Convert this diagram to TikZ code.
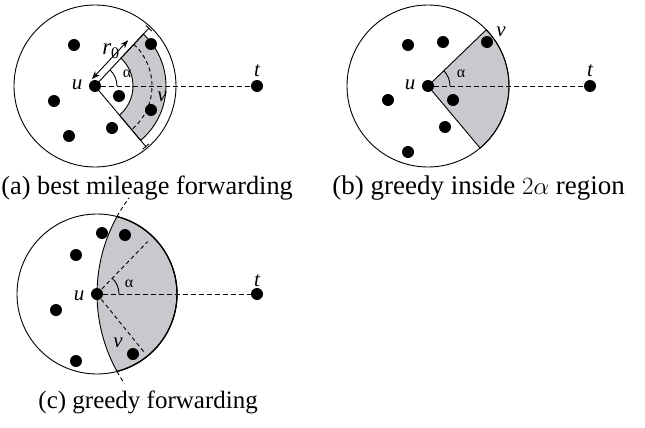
\documentclass[tikz,border=0pt]{standalone}
\usepackage{fontspec}
\setmainfont{Liberation Serif}
\usetikzlibrary{arrows.meta}
\definecolor{zone}{RGB}{200,201,204}
\tikzset{
  dot/.style={circle, fill=black, inner sep=0pt, minimum size=12pt},
  lbl/.style={font=\fontsize{21}{21}\selectfont\itshape, inner sep=0pt},
  ang/.style={font=\fontsize{16}{16}\selectfont, inner sep=0pt},
  captext/.style={font=\fontsize{26.3}{27}\selectfont, inner sep=0pt},
  route/.style={dash pattern=on 5pt off 3pt},
  aux/.style={dash pattern=on 4pt off 3pt},
  region/.style={fill=zone, draw=black},
}
\begin{document}
\begin{tikzpicture}[x=1pt, y=-1pt, line width=0.9pt]
\useasboundingbox (0,0) rectangle (645,428);

% ---------- (a) best mileage forwarding ----------
\begin{scope}[shift={(95,86)}]
  \path[region] (-47:38) -- (-47:71) arc[start angle=-47, end angle=50, radius=71]
        -- (50:38) arc[start angle=50, end angle=-47, radius=38] -- cycle;
  \draw[aux] (-47:57) arc[start angle=-47, end angle=50, radius=57];
  \draw (0,0) circle[radius=81];
  \draw (0,0) -- (-47:79);
  \draw (0,0) -- (50:79);
  \draw ([shift={(43:4)}]-47:79) -- ([shift={(-137:4)}]-47:79);
  \draw ([shift={(-40:4)}]50:79) -- ([shift={(140:4)}]50:79);
  \draw (-47:22) arc[start angle=-47, end angle=0, radius=22];
  \draw[{Stealth[length=8pt,width=6pt]}-{Stealth[length=8pt,width=6pt]}]
        ([shift={(-137:7)}]-47:3) -- ([shift={(-137:7)}]-47:56);
\end{scope}
\node[dot] (ua) at (95,86) {};
\node[dot] (ta) at (257,86) {};
\node[dot] (a1) at (74,45) {};
\node[dot] (a2) at (151,44) {};
\node[dot] (a3) at (54,101) {};
\node[dot] (a4) at (119,96) {};
\node[dot] (va) at (151,110) {};
\node[dot] (a6) at (112,128) {};
\node[dot] (a7) at (69,136) {};
\draw[route] (ua) -- (ta);
\node[lbl] (lua) at (77,85) {u};
\node[lbl] (lta) at (257,71) {t};
\node[lbl] (lva) at (162,97) {v};
\node[ang] (laa) at (127,74) {α};
\node[lbl, font=\fontsize{23}{23}\selectfont\itshape] (lra) at (111,51) {r\textsubscript{\upshape 0}};
\node[captext, anchor=base west] (capa) at (1,194) {(a) best mileage forwarding};

% ---------- (b) greedy inside 2alpha region ----------
\begin{scope}[shift={(428,86)}]
  \path[region] (0,0) -- (-44:81) arc[start angle=-44, end angle=50, radius=81] -- cycle;
  \draw (0,0) circle[radius=81];
  \draw (-44:22) arc[start angle=-44, end angle=0, radius=22];
\end{scope}
\node[dot] (ub) at (428,86) {};
\node[dot] (tb) at (590,86) {};
\node[dot] (b1) at (408,45) {};
\node[dot] (b2) at (443,42) {};
\node[dot] (vb) at (487,42) {};
\node[dot] (b4) at (388,100) {};
\node[dot] (b5) at (453,100) {};
\node[dot] (b6) at (445,127) {};
\node[dot] (b7) at (408,152) {};
\draw[route] (ub) -- (tb);
\node[lbl] (lub) at (410,85) {u};
\node[lbl] (ltb) at (590,71) {t};
\node[lbl] (lvb) at (501,32) {v};
\node[ang] (lab) at (461,74) {α};
\node[captext, font=\fontsize{27}{27}\selectfont, anchor=base west] (capb) at (332,194) {(b) greedy inside $2\alpha$ region};

% ---------- (c) greedy forwarding ----------
\begin{scope}[shift={(97,294)}]
  \path[region] (-75.5:80) arc[start angle=-75.5, end angle=75.5, radius=80]
        arc[start angle=151.05, end angle=208.95, radius=160] -- cycle;
  \draw (0,0) circle[radius=80];
  \draw[line width=1.2pt] (-75.5:80) arc[start angle=-75.5, end angle=75.5, radius=80];
  \draw[aux] (151.05:160) ++(160,0) arc[start angle=151.05, end angle=146, radius=160];
  \draw[aux] (208.95:160) ++(160,0) arc[start angle=208.95, end angle=217, radius=160];
  \draw[aux] (-46:7) -- (-46:73);
  \draw[aux] (51:7) -- (51:76);
  \draw (-46:22) arc[start angle=-46, end angle=0, radius=22];
\end{scope}
\node[dot] (uc) at (97,294) {};
\node[dot] (tc) at (257,294) {};
\node[dot] (c1) at (102,233) {};
\node[dot] (c2) at (125,235) {};
\node[dot] (c3) at (76,255) {};
\node[dot] (c4) at (56,310) {};
\node[dot] (c5) at (76,361) {};
\node[dot] (vc) at (133,354) {};
\draw[route] (uc) -- (tc);
\node[lbl] (luc) at (79,296) {u};
\node[lbl] (ltc) at (257,281) {t};
\node[lbl] (lvc) at (118,343) {v};
\node[ang] (lac) at (129,284) {α};
\node[captext, font=\fontsize{25}{25}\selectfont, anchor=base west] (capc) at (38,408) {(c) greedy forwarding};
\end{tikzpicture}
\end{document}
